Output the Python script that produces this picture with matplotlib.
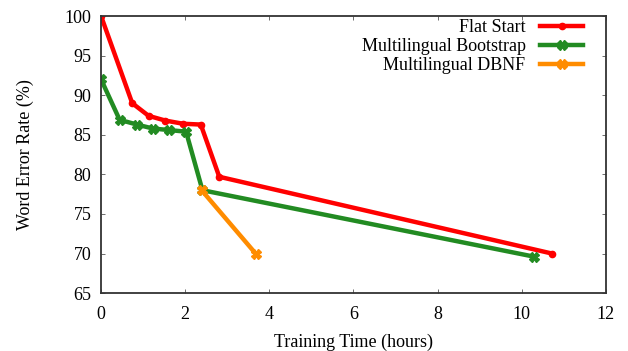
import matplotlib
matplotlib.use('Agg')
import matplotlib.pyplot as plt

plt.rcParams['font.family'] = ['Liberation Serif', 'DejaVu Serif']
plt.rcParams['font.size'] = 13

# Training time (hours) vs word error rate (%)
flat_x = [0.0, 0.74, 1.13, 1.53, 1.95, 2.37, 2.81, 10.72]
flat_y = [100.0, 89.0, 87.4, 86.8, 86.4, 86.3, 79.7, 70.0]

boot_x = [0.0, 0.44, 0.85, 1.23, 1.62, 2.02, 2.41, 10.30]
boot_y = [92.0, 86.9, 86.3, 85.8, 85.6, 85.4, 78.0, 69.6]

dbnf_x = [2.39, 3.69]
dbnf_y = [78.0, 69.9]

fig = plt.figure(figsize=(6.28, 3.51), dpi=100)
ax = fig.add_axes([0.161, 0.165, 0.8035, 0.789])

ax.plot(flat_x, flat_y, color='#ff0000', lw=3.2, marker='o', ms=4.5, label='Flat Start')
ax.plot(boot_x, boot_y, color='#228b22', lw=3.2, marker='X', ms=6.5, label='Multilingual Bootstrap')
ax.plot(dbnf_x, dbnf_y, color='#ff8c00', lw=3.2, marker='X', ms=6.5, label='Multilingual DBNF')

ax.set_xlim(0, 12)
ax.set_ylim(65, 100)
ax.set_xticks(range(0, 13, 2))
ax.set_yticks(range(65, 101, 5))
ax.tick_params(direction='in', top=True, right=True, length=3, width=0.6, color='#555555')
ax.tick_params(axis='x', pad=9)
ax.tick_params(axis='y', pad=7)
for s in ax.spines.values():
    s.set_color('#333333')
    s.set_linewidth(1.3)

ax.set_xlabel('Training Time (hours)', labelpad=8)
ax.set_ylabel('Word Error Rate (%)', labelpad=22)

ax.legend(loc='upper right', frameon=False, markerfirst=False, handlelength=2.4,
          handletextpad=0.8, labelspacing=0.1, borderaxespad=0.0, bbox_to_anchor=(0.97, 1.015))

fig.savefig('out.png', dpi=100)
